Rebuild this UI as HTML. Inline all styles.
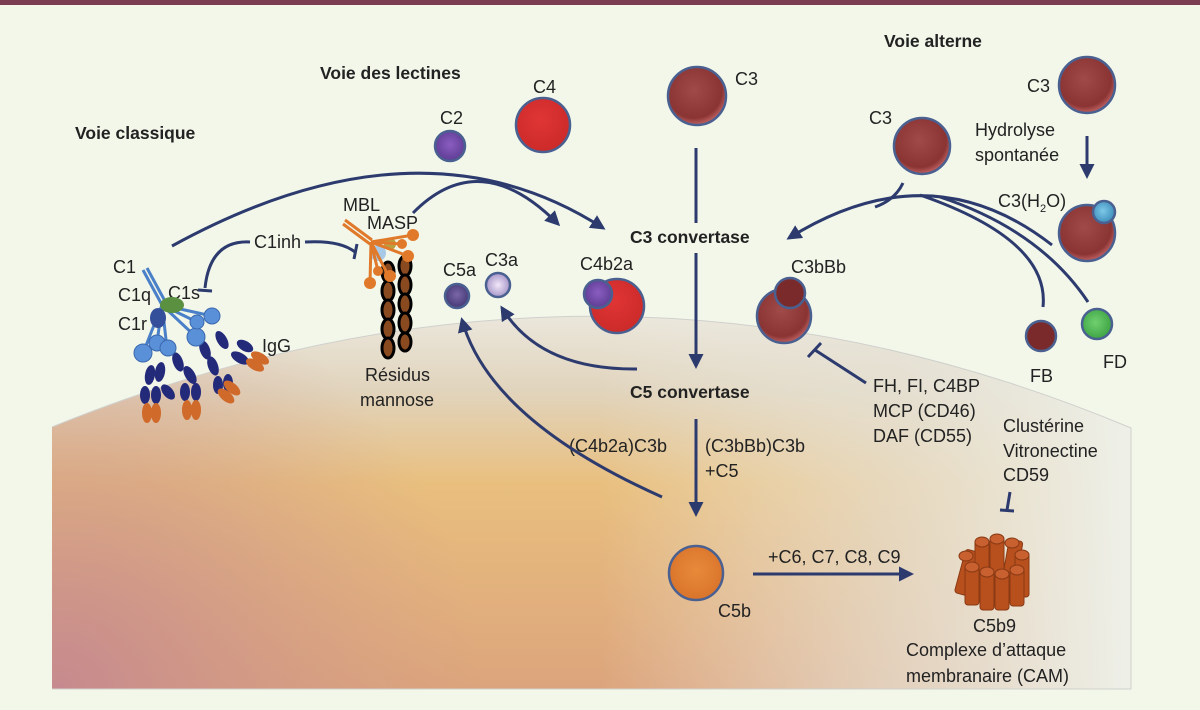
<!DOCTYPE html>
<html><head><meta charset="utf-8"><style>
html,body{margin:0;padding:0;background:#f2f7ea;}
svg{display:block;}
text{font-family:"Liberation Sans Narrow","Liberation Sans",sans-serif;fill:#222;font-size:18px;}
.b{font-family:"Liberation Sans",sans-serif;font-weight:bold;font-size:17.5px;}
</style></head><body>
<svg width="1200" height="710" viewBox="0 0 1200 710" xmlns="http://www.w3.org/2000/svg">
<defs>
<linearGradient id="gv" x1="0" y1="315" x2="0" y2="690" gradientUnits="userSpaceOnUse">
<stop offset="0" stop-color="#ebe7dc"/><stop offset="0.2" stop-color="#e1d4bd"/><stop offset="0.45" stop-color="#e9bf7e"/><stop offset="1" stop-color="#dca47c"/>
</linearGradient>
<linearGradient id="gh" x1="600" y1="0" x2="1131" y2="0" gradientUnits="userSpaceOnUse">
<stop offset="0" stop-color="#eceee6" stop-opacity="0"/><stop offset="0.55" stop-color="#e6e3d8" stop-opacity="0.7"/><stop offset="1" stop-color="#eef0e8" stop-opacity="1"/>
</linearGradient>
<radialGradient id="gp" cx="60" cy="690" r="420" gradientUnits="userSpaceOnUse">
<stop offset="0" stop-color="#c68a8e"/><stop offset="1" stop-color="#cf9a8a" stop-opacity="0"/>
</radialGradient>
<radialGradient id="mar" cx="0.45" cy="0.4" r="0.6"><stop offset="0" stop-color="#a04a4a"/><stop offset="0.8" stop-color="#8a3434"/><stop offset="1" stop-color="#c06060"/></radialGradient>
<radialGradient id="red" cx="0.45" cy="0.4" r="0.6"><stop offset="0" stop-color="#e03535"/><stop offset="1" stop-color="#cc2a2a"/></radialGradient>
<radialGradient id="pur" cx="0.5" cy="0.45" r="0.6"><stop offset="0" stop-color="#8a5cc0"/><stop offset="1" stop-color="#5a3a90"/></radialGradient>
<radialGradient id="dpur" cx="0.5" cy="0.45" r="0.6"><stop offset="0" stop-color="#7a66a8"/><stop offset="1" stop-color="#3f3470"/></radialGradient>
<radialGradient id="lav" cx="0.5" cy="0.5" r="0.6"><stop offset="0" stop-color="#f0e8f8"/><stop offset="1" stop-color="#9a86c0"/></radialGradient>
<radialGradient id="org" cx="0.5" cy="0.45" r="0.6"><stop offset="0" stop-color="#e88a3a"/><stop offset="1" stop-color="#d8722a"/></radialGradient>
<radialGradient id="grn" cx="0.45" cy="0.45" r="0.6"><stop offset="0" stop-color="#70d070"/><stop offset="1" stop-color="#3aa040"/></radialGradient>
<radialGradient id="blu" cx="0.45" cy="0.45" r="0.6"><stop offset="0" stop-color="#7cc8e8"/><stop offset="1" stop-color="#3a8ab8"/></radialGradient>
<marker id="ah" viewBox="0 0 10 10" refX="8" refY="5" markerWidth="5" markerHeight="5" orient="auto-start-reverse"><path d="M0,0 L10,5 L0,10 z" fill="#2c3a6e"/></marker>
</defs>
<rect x="0" y="0" width="1200" height="5" fill="#7a3d52"/>
<path d="M52,427 Q600,205 1131,428 L1131,689 L52,689 Z" fill="url(#gv)"/>
<path d="M52,427 Q600,205 1131,428 L1131,689 L52,689 Z" fill="url(#gp)"/>
<path d="M52,427 Q600,205 1131,428 L1131,689 L52,689 Z" fill="url(#gh)"/>
<path d="M52,427 Q600,205 1131,428 L1131,689 L52,689" fill="none" stroke="#d0d0cc" stroke-width="1"/>

<text class="b" x="75" y="139">Voie classique</text>
<text class="b" x="320" y="79">Voie des lectines</text>
<text class="b" x="884" y="47">Voie alterne</text>

<g stroke="#4a6090" stroke-width="2.5">
<circle cx="450" cy="146" r="15" fill="url(#pur)"/>
<circle cx="543" cy="125" r="27" fill="url(#red)"/>
<circle cx="697" cy="96" r="29" fill="url(#mar)"/>
<circle cx="1087" cy="85" r="28" fill="url(#mar)"/>
<circle cx="922" cy="146" r="28" fill="url(#mar)"/>
<circle cx="1087" cy="233" r="28" fill="url(#mar)"/>
<circle cx="1104" cy="212" r="11" fill="url(#blu)"/>
<circle cx="784" cy="316" r="27" fill="url(#mar)"/>
<circle cx="790" cy="293" r="15" fill="#7a2a2a"/>
<circle cx="1041" cy="336" r="15" fill="#7a2a2a"/>
<circle cx="1097" cy="324" r="15" fill="url(#grn)"/>
<circle cx="617" cy="306" r="27" fill="url(#red)"/>
<circle cx="598" cy="294" r="14" fill="url(#pur)"/>
<circle cx="457" cy="296" r="12" fill="url(#dpur)"/>
<circle cx="498" cy="285" r="12" fill="url(#lav)"/>
<circle cx="696" cy="573" r="27" fill="url(#org)"/>
</g>

<text x="440" y="124">C2</text>
<text x="533" y="93">C4</text>
<text x="735" y="85">C3</text>
<text x="1027" y="92">C3</text>
<text x="869" y="124">C3</text>
<text x="975" y="136">Hydrolyse</text>
<text x="975" y="161">spontanée</text>
<text x="998" y="207">C3(H<tspan font-size="11" dy="5">2</tspan><tspan dy="-5">O)</tspan></text>
<text x="791" y="273">C3bBb</text>
<text x="1030" y="382">FB</text>
<text x="1103" y="368">FD</text>
<text class="b" x="630" y="243">C3 convertase</text>
<text class="b" x="630" y="398">C5 convertase</text>
<text x="580" y="270">C4b2a</text>
<text x="443" y="276">C5a</text>
<text x="485" y="266">C3a</text>
<text x="873" y="392">FH, FI, C4BP</text>
<text x="873" y="417">MCP (CD46)</text>
<text x="873" y="442">DAF (CD55)</text>
<text x="1003" y="432">Clustérine</text>
<text x="1003" y="457">Vitronectine</text>
<text x="1003" y="481">CD59</text>
<text x="569" y="452">(C4b2a)C3b</text>
<text x="705" y="452">(C3bBb)C3b</text>
<text x="705" y="477">+C5</text>
<text x="718" y="617">C5b</text>
<text x="768" y="563">+C6, C7, C8, C9</text>
<text x="973" y="632">C5b9</text>
<text x="906" y="656">Complexe d’attaque</text>
<text x="906" y="682">membranaire (CAM)</text>
<text x="113" y="273">C1</text>
<text x="118" y="301">C1q</text>
<text x="168" y="299">C1s</text>
<text x="118" y="330">C1r</text>
<text x="262" y="352">IgG</text>
<text x="343" y="211">MBL</text>
<text x="367" y="229">MASP</text>
<text x="254" y="248">C1inh</text>
<text x="365" y="381">Résidus</text>
<text x="360" y="406">mannose</text>

<g fill="none" stroke="#2c3a6e" stroke-width="3">
<path d="M172,246 Q420,110 603,228" marker-end="url(#ah)"/>
<path d="M413,213 Q480,145 558,224" marker-end="url(#ah)"/>
<path d="M696,148 L696,223"/>
<path d="M696,253 L696,366" marker-end="url(#ah)"/>
<path d="M696,419 L696,514" marker-end="url(#ah)"/>
<path d="M637,369 Q540,370 502,308" marker-end="url(#ah)"/>
<path d="M662,497 Q490,420 462,320" marker-end="url(#ah)"/>
<path d="M753,574 L911,574" marker-end="url(#ah)"/>
<path d="M1087,136 L1087,176" marker-end="url(#ah)"/>
<path d="M1052,245 Q930,150 789,238" marker-end="url(#ah)"/>
<path d="M903,183 Q895,200 875,207"/>
<path d="M1043,307 Q1050,240 920,195"/>
<path d="M1088,302 Q1040,230 940,197"/>
<path d="M866,383 L815,350"/><path d="M808,357 L821,343"/>
<path d="M1010,492 L1007,510"/><path d="M1000,510 L1014,511"/>
<path d="M250,242 Q210,240 205,288"/><path d="M198,290 L212,291"/>
<path d="M305,242 Q340,240 355,252"/><path d="M357,244 L354,259"/>
</g>

<g fill="#232a7a">
<ellipse cx="150" cy="375" rx="5" ry="10" transform="rotate(10 150 375)"/>
<ellipse cx="160" cy="372" rx="5" ry="10" transform="rotate(10 160 372)"/>
<ellipse cx="145" cy="395" rx="5" ry="9"/><ellipse cx="156" cy="395" rx="5" ry="9"/>
<ellipse cx="178" cy="362" rx="5" ry="10" transform="rotate(-20 178 362)"/>
<ellipse cx="190" cy="375" rx="5" ry="10" transform="rotate(-30 190 375)"/>
<ellipse cx="185" cy="392" rx="5" ry="9"/><ellipse cx="196" cy="392" rx="5" ry="9"/>
<ellipse cx="205" cy="350" rx="5" ry="10" transform="rotate(-20 205 350)"/>
<ellipse cx="213" cy="366" rx="5" ry="10" transform="rotate(-20 213 366)"/>
<ellipse cx="218" cy="385" rx="5" ry="9"/><ellipse cx="228" cy="383" rx="5" ry="9"/>
<ellipse cx="222" cy="340" rx="5" ry="10" transform="rotate(-30 222 340)"/>
<ellipse cx="240" cy="358" rx="5" ry="10" transform="rotate(-60 240 358)"/>
<ellipse cx="245" cy="346" rx="5" ry="9" transform="rotate(-60 245 346)"/>
<ellipse cx="168" cy="392" rx="5" ry="9" transform="rotate(-40 168 392)"/>
</g>
<g fill="#d06a2a">
<ellipse cx="147" cy="413" rx="5" ry="10"/><ellipse cx="156" cy="413" rx="5" ry="10"/>
<ellipse cx="187" cy="410" rx="5" ry="10"/><ellipse cx="196" cy="410" rx="5" ry="10"/>
<ellipse cx="226" cy="396" rx="5" ry="10" transform="rotate(-50 226 396)"/>
<ellipse cx="232" cy="388" rx="5" ry="10" transform="rotate(-50 232 388)"/>
<ellipse cx="255" cy="365" rx="5" ry="10" transform="rotate(-60 255 365)"/>
<ellipse cx="260" cy="358" rx="5" ry="10" transform="rotate(-60 260 358)"/>
</g>
<g stroke="#4a80c8" stroke-width="3" fill="none">
<path d="M143,270 L162,305"/><path d="M147,268 L166,303"/>
<path d="M162,305 L143,353 M162,305 L157,343 M162,305 L167,348 M162,305 L196,337 M162,305 L197,322 M162,305 L212,316"/>
</g>
<ellipse cx="172" cy="305" rx="12" ry="8" fill="#5a9040"/>
<ellipse cx="158" cy="318" rx="8" ry="10" fill="#34509a"/>
<g fill="#5a90d8" stroke="#3a68b0" stroke-width="1">
<circle cx="143" cy="353" r="9"/><circle cx="157" cy="343" r="8"/><circle cx="168" cy="348" r="8"/>
<circle cx="196" cy="337" r="9"/><circle cx="197" cy="322" r="7"/><circle cx="212" cy="316" r="8"/>
</g>
<g fill="#8a4a20" stroke="#000" stroke-width="3">
<ellipse cx="388" cy="272" rx="6" ry="10"/><ellipse cx="388" cy="291" rx="6" ry="10"/><ellipse cx="388" cy="310" rx="6" ry="10"/><ellipse cx="388" cy="329" rx="6" ry="10"/><ellipse cx="388" cy="348" rx="6" ry="10"/>
<ellipse cx="405" cy="266" rx="6" ry="10"/><ellipse cx="405" cy="285" rx="6" ry="10"/><ellipse cx="405" cy="304" rx="6" ry="10"/><ellipse cx="405" cy="323" rx="6" ry="10"/><ellipse cx="405" cy="342" rx="6" ry="9"/>
</g>
<circle cx="378" cy="253" r="8" fill="#a8c8e8"/>
<circle cx="390" cy="244" r="6" fill="#b8a040"/>
<g stroke="#e07a2a" stroke-width="3" fill="none">
<path d="M345,220 L372,240"/><path d="M343,224 L370,244"/>
<path d="M371,242 L413,235 M371,242 L402,244 M371,242 L408,256 M371,242 L370,283 M371,242 L378,271 M371,242 L388,275"/>
</g>
<g fill="#e07a2a"><circle cx="413" cy="235" r="6"/><circle cx="402" cy="244" r="5"/><circle cx="408" cy="256" r="6"/><circle cx="370" cy="283" r="6"/><circle cx="378" cy="271" r="5"/><circle cx="390" cy="276" r="6"/></g>
<g fill="#b8501e" stroke="#8a3a14" stroke-width="1">
<rect x="960" y="550" width="14" height="45" rx="3" transform="rotate(15 967 572)"/>
<rect x="975" y="540" width="14" height="48" rx="3"/>
<rect x="990" y="537" width="14" height="48" rx="3"/>
<rect x="1005" y="540" width="14" height="48" rx="3" transform="rotate(10 1012 564)"/>
<rect x="1015" y="552" width="14" height="45" rx="3"/>
<rect x="965" y="565" width="14" height="40" rx="3"/>
<rect x="980" y="570" width="14" height="40" rx="3"/>
<rect x="995" y="572" width="14" height="38" rx="3"/>
<rect x="1010" y="568" width="14" height="38" rx="3"/>
<ellipse cx="982" cy="542" rx="7" ry="5" fill="#c86030"/><ellipse cx="997" cy="539" rx="7" ry="5" fill="#c86030"/><ellipse cx="1012" cy="543" rx="7" ry="5" fill="#c86030"/><ellipse cx="1022" cy="555" rx="7" ry="5" fill="#c86030"/><ellipse cx="966" cy="556" rx="7" ry="5" fill="#c86030"/>
<ellipse cx="972" cy="567" rx="7" ry="5" fill="#c86030"/><ellipse cx="987" cy="572" rx="7" ry="5" fill="#c86030"/><ellipse cx="1002" cy="574" rx="7" ry="5" fill="#c86030"/><ellipse cx="1017" cy="570" rx="7" ry="5" fill="#c86030"/>
</g>
</svg>
</body></html>
